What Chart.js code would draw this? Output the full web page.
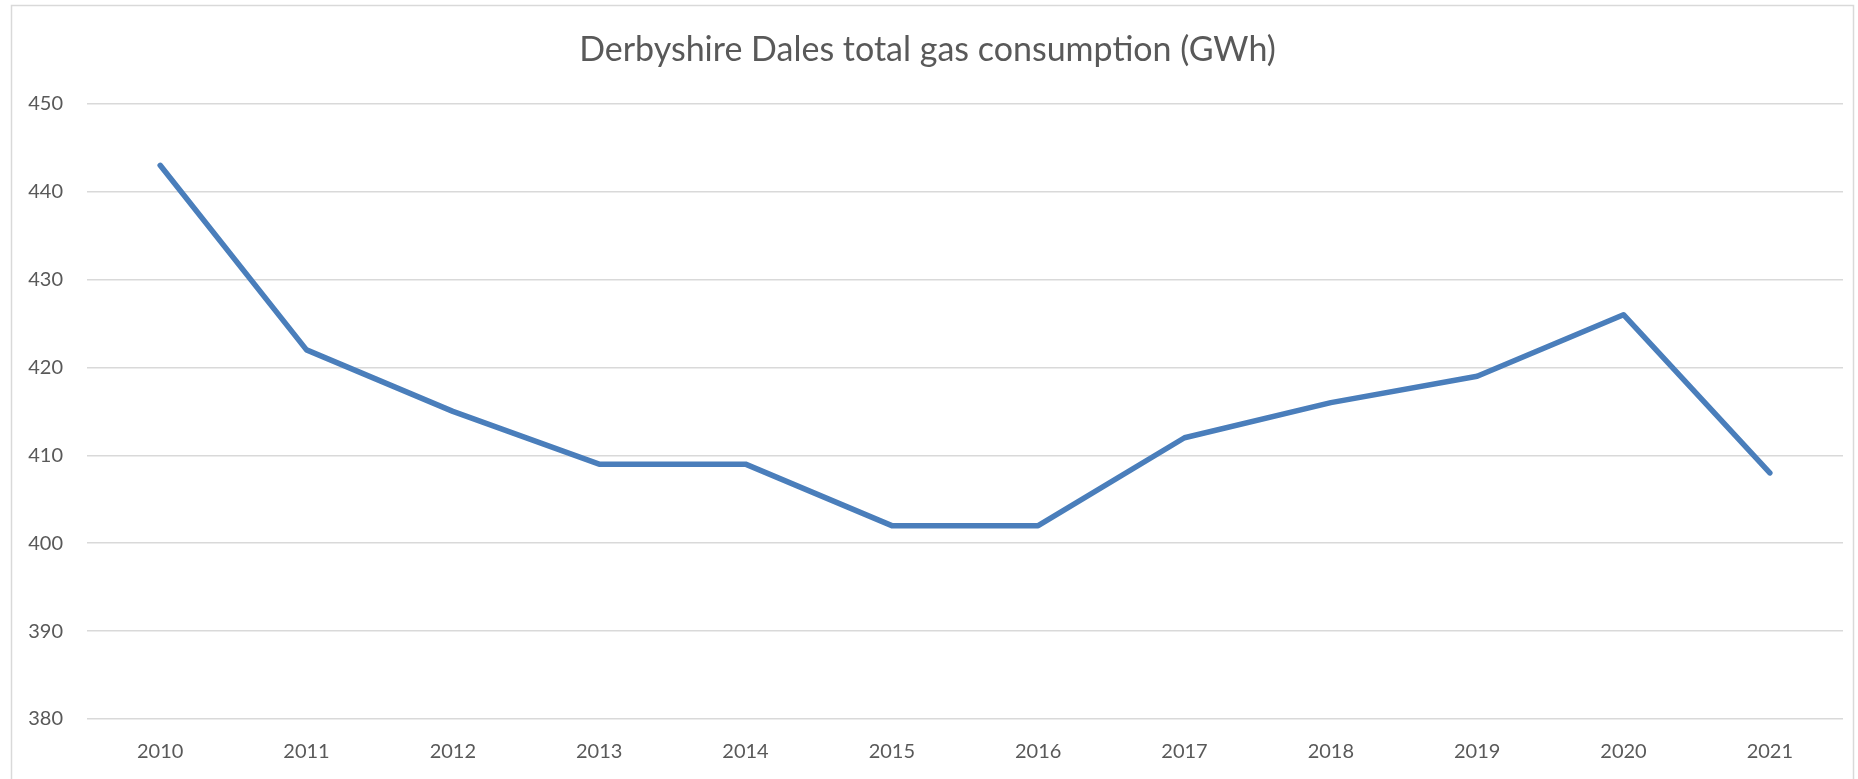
<!DOCTYPE html>
<html>
<head>
<meta charset="utf-8">
<script src="https://cdn.jsdelivr.net/npm/chart.js@4/dist/chart.umd.min.js"></script>
<style>
  html, body { margin: 0; padding: 0; background: #fff; }
  #wrap { width: 1858px; height: 779px; position: relative; }
</style>
</head>
<body>
<div id="wrap"><canvas id="myChart" width="1858" height="779"></canvas></div>
<script>
var years = ["2010", "2011", "2012", "2013", "2014", "2015", "2016", "2017", "2018", "2019", "2020", "2021"];
var gasGWh = [443, 422, 415, 409, 409, 402, 402, 412, 416, 419, 426, 408];
var yMin = 380;
var yMax = 450;
var yStep = 10;
var chartTitle = "Derbyshire Dales total gas consumption (GWh)";

var textColor = "#595959";
var gridColor = "#d9d9d9";

// outer frame like the spreadsheet chart box
var frame = {
  id: "frame",
  beforeDraw: function (chart) {
    var c = chart.ctx;
    c.save();
    c.fillStyle = "#fff";
    c.fillRect(0, 0, chart.width, chart.height);
    c.strokeStyle = gridColor;
    c.lineWidth = 1.5;
    c.strokeRect(11.5, 5.5, chart.width - 16, chart.height + 20);
    c.restore();
  }
};

document.addEventListener("DOMContentLoaded", function () {
  var ctx = document.getElementById("myChart").getContext("2d");

  var myChart = new Chart(ctx, {
    type: "line",
    data: {
      labels: years,
      datasets: [
        {
          label: "Total gas consumption (GWh)",
          data: gasGWh,
          borderColor: "#4a7ebb",
          borderWidth: 5.5,
          pointRadius: 0,
          borderCapStyle: "round",
          borderJoinStyle: "round",
          tension: 0,
          fill: false
        }
      ]
    },
    options: {
      responsive: false,
      animation: false,
      layout: {
        padding: { top: 20, left: 12, right: 15, bottom: 15 }
      },
      plugins: {
        legend: { display: false },
        tooltip: { enabled: false },
        title: {
          display: true,
          text: chartTitle,
          color: textColor,
          font: { family: "Lato", size: 34, weight: "normal" },
          padding: { top: 10, bottom: 33 }
        }
      },
      scales: {
        x: {
          offset: true,
          grid: { display: false, drawTicks: false },
          border: { display: false },
          ticks: {
            color: textColor,
            font: { family: "Lato", size: 20 },
            padding: 21,
            maxRotation: 0
          },
          afterFit: function (scale) {
            scale.height = 45;
          }
        },
        y: {
          min: yMin,
          max: yMax,
          grid: { color: gridColor, lineWidth: 1.5, drawTicks: false },
          border: { display: false },
          ticks: {
            stepSize: yStep,
            color: textColor,
            font: { family: "Lato", size: 20 },
            padding: 24
          },
          afterFit: function (scale) {
            scale.width = 75;
          }
        }
      }
    },
    plugins: [frame]
  });
});
</script>
</body>
</html>
